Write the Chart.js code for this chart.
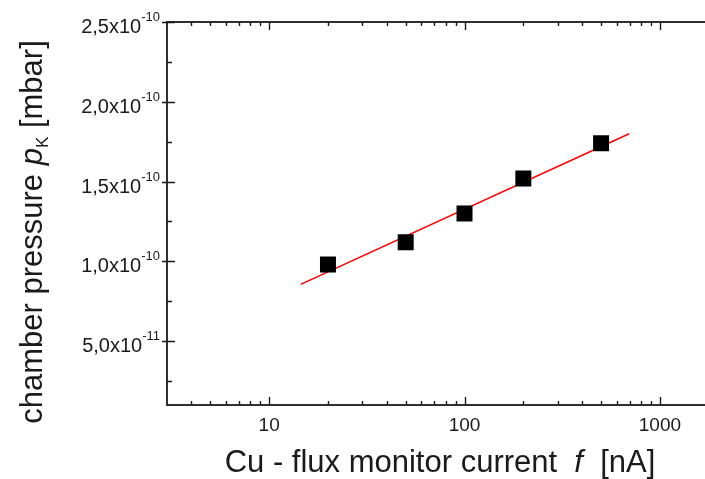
<!DOCTYPE html>
<html>
<head>
<meta charset="utf-8">
<script src="https://cdn.jsdelivr.net/npm/chart.js@4/dist/chart.umd.min.js"></script>
<style>
  html, body { margin: 0; padding: 0; background: #fff; overflow: hidden; }
  #wrap { width: 730px; height: 479px; }
</style>
</head>
<body>
<div id="wrap"><canvas id="c" width="730" height="479"></canvas></div>
<script>
// ---- data --------------------------------------------------------------
const fluxCurrent  = [20, 50, 100, 200, 500];                       // nA
const pressure     = [0.98e-10, 1.12e-10, 1.30e-10, 1.52e-10, 1.74e-10]; // mbar
const fitCurrent   = [14.5, 696];
const fitPressure  = [0.856e-10, 1.80e-10];

// ---- axes / ticks --------------------------------------------------------
const xRange       = [3, 2000];
const yRange       = [1.0e-11, 2.5e-10];
const xMajorTicks  = [10, 100, 1000];
const xTickLabels  = ["10", "100", "1000"];
const xMinorTicks  = [4, 5, 6, 7, 8, 9, 20, 30, 40, 50, 60, 70, 80, 90,
                      200, 300, 400, 500, 600, 700, 800, 900];
const yMajorTicks  = [5e-11, 1e-10, 1.5e-10, 2e-10, 2.5e-10];
const yTickMant    = ["5,0x10", "1,0x10", "1,5x10", "2,0x10", "2,5x10"];
const yTickExp     = ["-11", "-10", "-10", "-10", "-10"];
const yMinorTicks  = [2.5e-11, 7.5e-11, 1.25e-10, 1.75e-10, 2.25e-10];

const FONT = "'Liberation Sans', Arial, sans-serif";
const INK  = "#1a1a1a";

// frame, inward ticks and the labels with superscripts
const framePlugin = {
    id: "frame",
    afterDraw(chart) {
        const { ctx, chartArea: a, scales: { x, y } } = chart;
        ctx.save();
        ctx.strokeStyle = INK;
        ctx.lineWidth = 1.8;
        ctx.strokeRect(a.left, a.top, a.right - a.left, a.bottom - a.top);

        ctx.lineWidth = 1.4;
        ctx.beginPath();
        xMajorTicks.forEach((v) => {
            const px = Math.round(x.getPixelForValue(v)) + 0.5;
            ctx.moveTo(px, a.bottom); ctx.lineTo(px, a.bottom - 8);
            ctx.moveTo(px, a.top);    ctx.lineTo(px, a.top + 8);
        });
        xMinorTicks.forEach((v) => {
            const px = Math.round(x.getPixelForValue(v)) + 0.5;
            ctx.moveTo(px, a.bottom); ctx.lineTo(px, a.bottom - 4);
            ctx.moveTo(px, a.top);    ctx.lineTo(px, a.top + 4);
        });
        yMajorTicks.forEach((v) => {
            const py = Math.round(y.getPixelForValue(v)) + 0.5;
            ctx.moveTo(a.left - 5, py);  ctx.lineTo(a.left + 8, py);
            ctx.moveTo(a.right + 5, py); ctx.lineTo(a.right - 8, py);
        });
        yMinorTicks.forEach((v) => {
            const py = Math.round(y.getPixelForValue(v)) + 0.5;
            ctx.moveTo(a.left, py);  ctx.lineTo(a.left + 5, py);
            ctx.moveTo(a.right, py); ctx.lineTo(a.right - 5, py);
        });
        ctx.stroke();

        // x tick labels
        ctx.fillStyle = INK;
        ctx.font = "19px " + FONT;
        ctx.textAlign = "center";
        ctx.textBaseline = "alphabetic";
        xMajorTicks.forEach((v, i) => {
            ctx.fillText(xTickLabels[i], x.getPixelForValue(v), a.bottom + 26);
        });

        // y tick labels: mantissa + raised exponent
        yMajorTicks.forEach((v, i) => {
            const py = y.getPixelForValue(v);
            ctx.font = "13px " + FONT;
            ctx.textAlign = "left";
            const expW = ctx.measureText(yTickExp[i]).width;
            const expX = a.left - 7 - expW;
            ctx.fillText(yTickExp[i], expX, py - 1);
            ctx.font = "20px " + FONT;
            ctx.textAlign = "right";
            ctx.fillText(yTickMant[i], expX, py + 11);
        });

        // x title
        ctx.textAlign = "left";
        const xParts = [["Cu - flux monitor current  ", ""], ["f", "italic "], ["  [nA]", ""]];
        let w = 0;
        xParts.forEach(([t, st]) => { ctx.font = st + "31px " + FONT; w += ctx.measureText(t).width; });
        let cx = 440 - w / 2;
        xParts.forEach(([t, st]) => {
            ctx.font = st + "31px " + FONT;
            ctx.fillText(t, cx, 472);
            cx += ctx.measureText(t).width;
        });

        // y title (rotated)
        ctx.save();
        ctx.translate(42, 232);
        ctx.rotate(-Math.PI / 2);
        const yParts = [["chamber pressure ", "", 31, 0], ["p", "italic ", 31, 0],
                        ["K", "", 17, 6], [" [mbar]", "", 31, 0]];
        w = 0;
        yParts.forEach(([t, st, s]) => { ctx.font = st + s + "px " + FONT; w += ctx.measureText(t).width; });
        cx = -w / 2;
        yParts.forEach(([t, st, s, dy]) => {
            ctx.font = st + s + "px " + FONT;
            ctx.fillText(t, cx, dy);
            cx += ctx.measureText(t).width;
        });
        ctx.restore();
        ctx.restore();
    },
};

new Chart(document.getElementById("c"), {
    type: "scatter",
    data: {
        datasets: [
            {
                label: "fit",
                type: "line",
                data: fitCurrent.map((v, i) => ({ x: v, y: fitPressure[i] })),
                borderColor: "#ff0000",
                borderWidth: 1.6,
                pointRadius: 0,
                tension: 0,
                order: 2,
            },
            {
                label: "data",
                data: fluxCurrent.map((v, i) => ({ x: v, y: pressure[i] })),
                pointStyle: "rect",
                pointRadius: 11.3,
                backgroundColor: "#000",
                borderColor: "#000",
                borderWidth: 0,
                order: 1,
            },
        ],
    },
    options: {
        responsive: false,
        animation: false,
        devicePixelRatio: 1,
        // the right frame edge sits just past the 705 px window, as in the original
        layout: { padding: { left: 167, top: 22, right: 6, bottom: 74 } },
        plugins: { legend: { display: false }, tooltip: { enabled: false } },
        scales: {
            x: {
                type: "logarithmic",
                min: xRange[0], max: xRange[1],
                ticks: { display: false },
                grid: { display: false, drawTicks: false },
                border: { display: false },
            },
            y: {
                type: "linear",
                min: yRange[0], max: yRange[1],
                ticks: { display: false },
                grid: { display: false, drawTicks: false },
                border: { display: false },
            },
        },
    },
    plugins: [framePlugin],
});
</script>
</body>
</html>
